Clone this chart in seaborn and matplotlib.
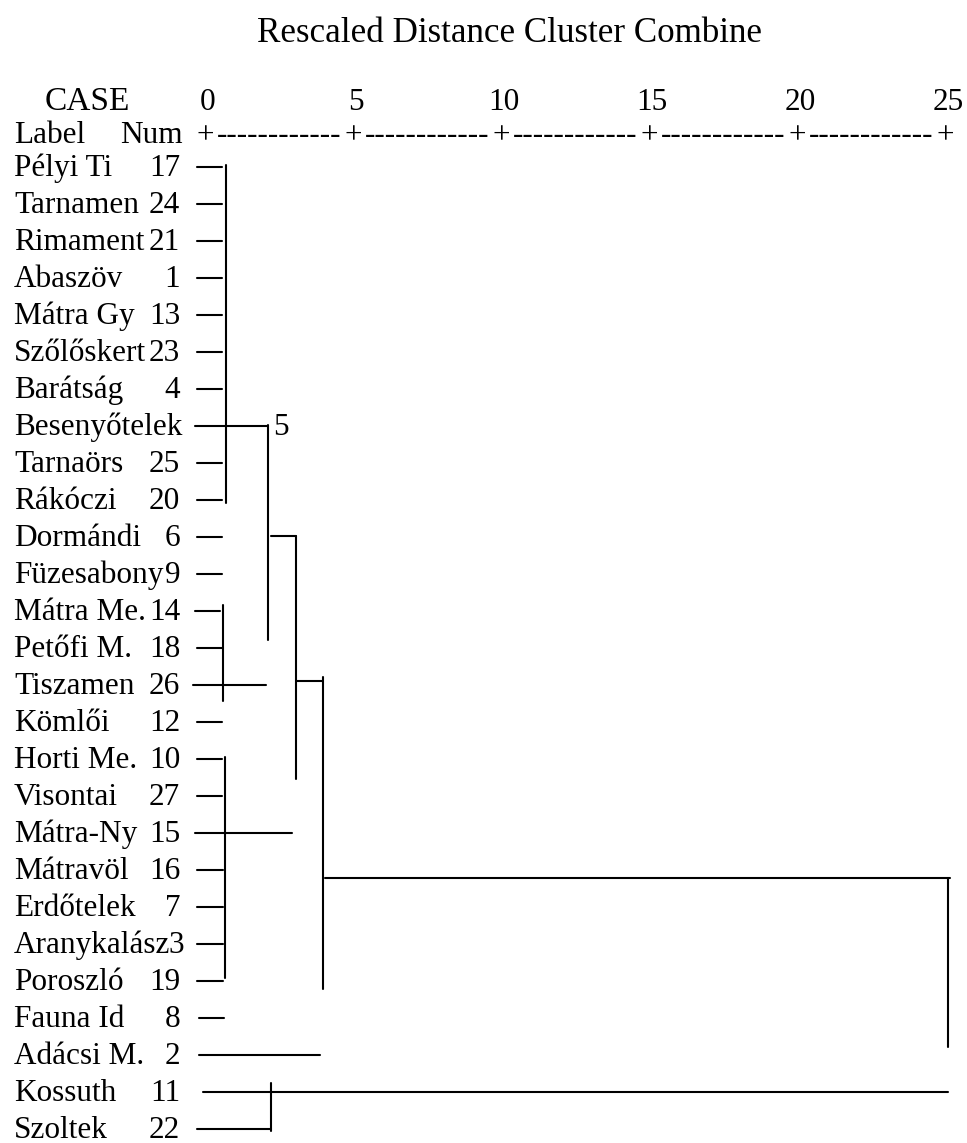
import matplotlib
matplotlib.use("Agg")
import matplotlib.pyplot as plt
import seaborn as sns
import pandas as pd

# ---------------- data ----------------
case_labels = ["Pélyi Ti", "Tarnamen", "Rimament", "Abaszöv", "Mátra Gy", "Szőlőskert",
               "Barátság", "Besenyőtelek", "Tarnaörs", "Rákóczi", "Dormándi", "Füzesabony",
               "Mátra Me.", "Petőfi M.", "Tiszamen", "Kömlői", "Horti Me.", "Visontai",
               "Mátra-Ny", "Mátravöl", "Erdőtelek", "Aranykalász", "Poroszló", "Fauna Id",
               "Adácsi M.", "Kossuth", "Szoltek"]
case_nums = ["17", "24", "21", "1", "13", "23", "4", "", "25", "20", "6", "9", "14", "18",
             "26", "12", "10", "27", "15", "16", "7", "3", "19", "8", "2", "11", "22"]

# leaf lines (rescaled distance where each row's line starts / ends)
leaf_start = [-0.27, -0.27, -0.27, -0.27, -0.27, -0.27, -0.27, -0.34, -0.27, -0.27,
              -0.27, -0.27, -0.34, -0.27, -0.41, -0.27, -0.27, -0.27, -0.34, -0.27,
              -0.27, -0.27, -0.27, -0.20, -0.20, -0.07, -0.27]
leaf_end = [0.57, 0.57, 0.57, 0.57, 0.57, 0.57, 0.57, 2.13, 0.57, 0.57,
            0.57, 0.57, 0.51, 0.61, 2.06, 0.57, 0.57, 0.57, 2.94, 0.61,
            0.61, 0.61, 0.61, 0.64, 3.89, 25.10, 2.23]

# joining horizontal lines: row position, start distance, end distance
join_row = [9.97, 13.89, 19.22]
join_start = [2.23, 3.11, 4.05]
join_end = [3.07, 3.99, 25.17]

# vertical lines: distance, top row, bottom row
vert_dist = [0.71, 2.13, 3.07, 0.61, 3.99, 0.68, 25.10, 2.23]
vert_top = [-0.05, 6.97, 9.97, 11.84, 13.78, 15.95, 19.22, 24.76]
vert_bottom = [9.08, 12.78, 16.54, 14.43, 22.22, 21.92, 23.78, 26.05]

scale_ticks = [0, 5, 10, 15, 20, 25]
title = "Rescaled Distance Cluster Combine"

# ---------------- build segments ----------------
rows = []
seg = 0
for i in range(len(case_labels)):
    rows.append((seg, leaf_start[i], i)); rows.append((seg, leaf_end[i], i)); seg += 1
for r, a, b in zip(join_row, join_start, join_end):
    rows.append((seg, a, r)); rows.append((seg, b, r)); seg += 1
for x, t, b in zip(vert_dist, vert_top, vert_bottom):
    rows.append((seg, x, t)); rows.append((seg, x, b)); seg += 1
df = pd.DataFrame(rows, columns=["seg", "dist", "row"])

# ---------------- draw ----------------
sns.set_theme(style="white")
plt.rcParams["font.family"] = ["Liberation Serif", "DejaVu Serif"]
FS = 22.5
TY = 0.04  # small vertical offset of row texts

fig = plt.figure(figsize=(9.67, 11.43), dpi=100)
ax = fig.add_axes([0, 0, 1, 1])
sns.lineplot(data=df, x="dist", y="row", units="seg", estimator=None, sort=False,
             color="black", linewidth=1.5, ax=ax, legend=False)

px = 29.6  # pixels per unit
ax.set_xlim(-205 / px, (967 - 205) / px)
ax.set_ylim((1143 - 167) / 37.0, -167 / 37.0)
ax.axis("off")

# case labels
for i, (lab, num) in enumerate(zip(case_labels, case_nums)):
    ax.text(-6.45, i + TY, lab, ha="left", va="center", fontsize=FS, color="black")
    if num:
        xr = -0.70 if lab == "Aranykalász" else -0.84
        ax.text(xr, i + TY, num, ha="right", va="center", fontsize=FS, color="black")
# displaced number of Besenyőtelek
ax.text(2.30, 7 + TY, "5", ha="left", va="center", fontsize=FS, color="black")

# header
ax.text(10.3, -3.62, title, ha="center", va="center", fontsize=25.2, color="black")
ax.text(-3.97, -1.75, "CASE", ha="center", va="center", fontsize=24, color="black")
ax.text(-6.45, -0.84, "Label", ha="left", va="center", fontsize=FS, color="black")
ax.text(-0.75, -0.84, "Num", ha="right", va="center", fontsize=FS, color="black")
for t in scale_ticks:
    ax.text(t + 0.1, -1.75, str(t), ha="center", va="center", fontsize=FS, color="black")
    ax.text(t, -0.84, "+", ha="center", va="center", fontsize=FS, color="black")
for a, b in zip(scale_ticks[:-1], scale_ticks[1:]):
    ax.text((a + b) / 2, -0.84, "-" * 12, ha="center", va="center", fontsize=FS, color="black")

fig.savefig("out.png", dpi=100, facecolor="white")
